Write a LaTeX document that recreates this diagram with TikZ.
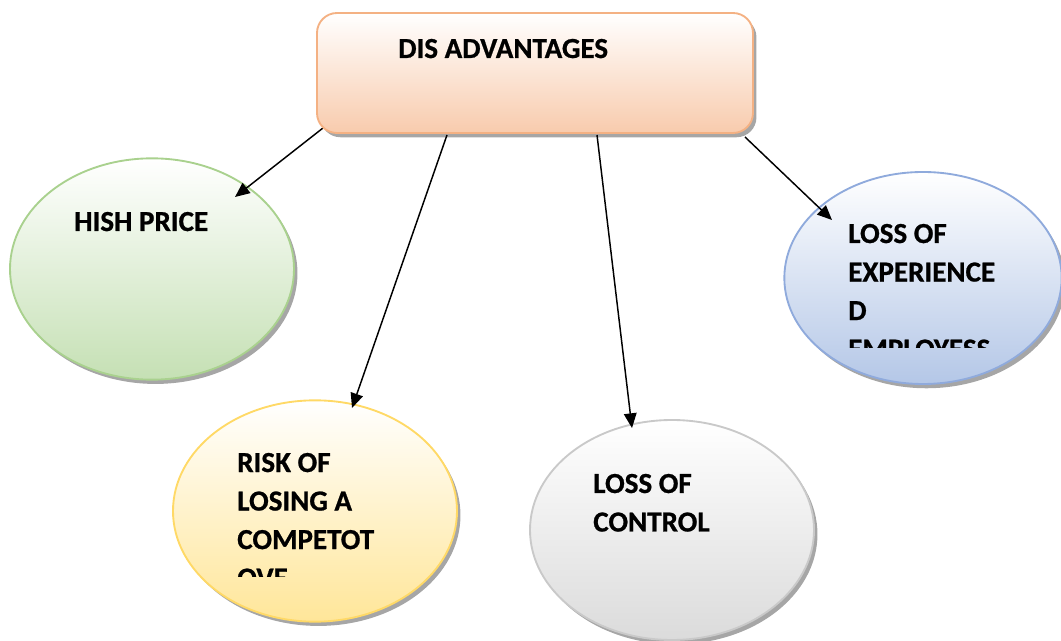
\documentclass[tikz,border=0pt]{standalone}
\usepackage{fontspec}
\setmainfont{Carlito}[BoldFeatures={FakeBold=0.8}]
\usetikzlibrary{shapes.geometric,shadows,arrows.meta,calc}

\definecolor{peachedge}{HTML}{F4B183}
\definecolor{peachfill}{HTML}{F8CBAD}
\definecolor{greenedge}{HTML}{A9D18E}
\definecolor{greenfill}{HTML}{C5E0B4}
\definecolor{yellowedge}{HTML}{FFD966}
\definecolor{yellowfill}{HTML}{FFE699}
\definecolor{grayedge}{HTML}{C9C9C9}
\definecolor{grayfill}{HTML}{DBDBDB}
\definecolor{blueedge}{HTML}{8FAADC}
\definecolor{bluefill}{HTML}{B4C7E7}

\tikzset{
  shadowed/.style={drop shadow={shadow xshift=2.6pt, shadow yshift=-3.2pt,
      fill=black, opacity=0.35}},
  bubble/.style 2 args={ellipse, draw=#1, line width=1.4pt, inner sep=0pt,
      outer sep=0pt, minimum width=213pt, minimum height=166pt,
      top color=white, bottom color=#2, shadowed},
  % anchored at the baseline of the last line of the text
  label/.style={anchor=base west, inner sep=0pt, align=left,
      font=\fontsize{21.8pt}{28.9pt}\selectfont\bfseries},
  arr/.style={line width=1.1pt, -{Triangle[length=11pt, width=9.5pt]}}
}

\begin{document}
\begin{tikzpicture}[x=0.75pt, y=0.75pt]
  \useasboundingbox (0,0) rectangle (1061,-641);

  % the four outcome bubbles
  \node[bubble={greenedge}{greenfill}]   (price)   at (152,-269) {};
  \node[bubble={yellowedge}{yellowfill}] (risk)    at (315,-511) {};
  \node[bubble={grayedge}{grayfill},
        minimum height=165pt]            (control) at (672,-530) {};
  \node[bubble={blueedge}{bluefill},
        minimum width=208pt, minimum height=159pt] (staff) at (923,-278) {};

  % centre of the header box
  \path (535,-73) coordinate (boxc);

  % connectors
  \draw[arr] ($(boxc)+(-212,-55)$) -- ($(price.center)+(83,72)$);
  \draw[arr] ($(boxc)+(-88,-62)$)  -- ($(risk.center)+(37,103)$);
  \draw[arr] ($(boxc)+(62,-62)$)   -- ($(control.center)+(-40,102)$);
  \draw[arr] ($(boxc)+(210,-64)$)  -- ($(staff.center)+(-91,58)$);

  % header box
  \node[draw=peachedge, line width=1.4pt, rounded corners=15pt,
        minimum width=327pt, minimum height=90pt, inner sep=0pt,
        top color=white, bottom color=peachfill, shadowed]
        (box) at (boxc) {};

  % texts
  \node[label] (t0) at (398,-58) {DIS ADVANTAGES};
  \node[label] (t1) at (74,-231) {HISH PRICE};
  \node[label] (t3) at (593,-531.5) {LOSS OF\\CONTROL};
  \begin{scope}
    \clip (0,0) rectangle (1061,-577);
    \node[label] (t2) at (237,-587.6) {RISK OF\\LOSING A\\COMPETOT\\OVE};
  \end{scope}
  \begin{scope}
    \clip (0,0) rectangle (1061,-348);
    \node[label] (t4) at (848,-358.6) {LOSS OF\\EXPERIENCE\\D\\EMPLOYESS};
  \end{scope}
\end{tikzpicture}
\end{document}
